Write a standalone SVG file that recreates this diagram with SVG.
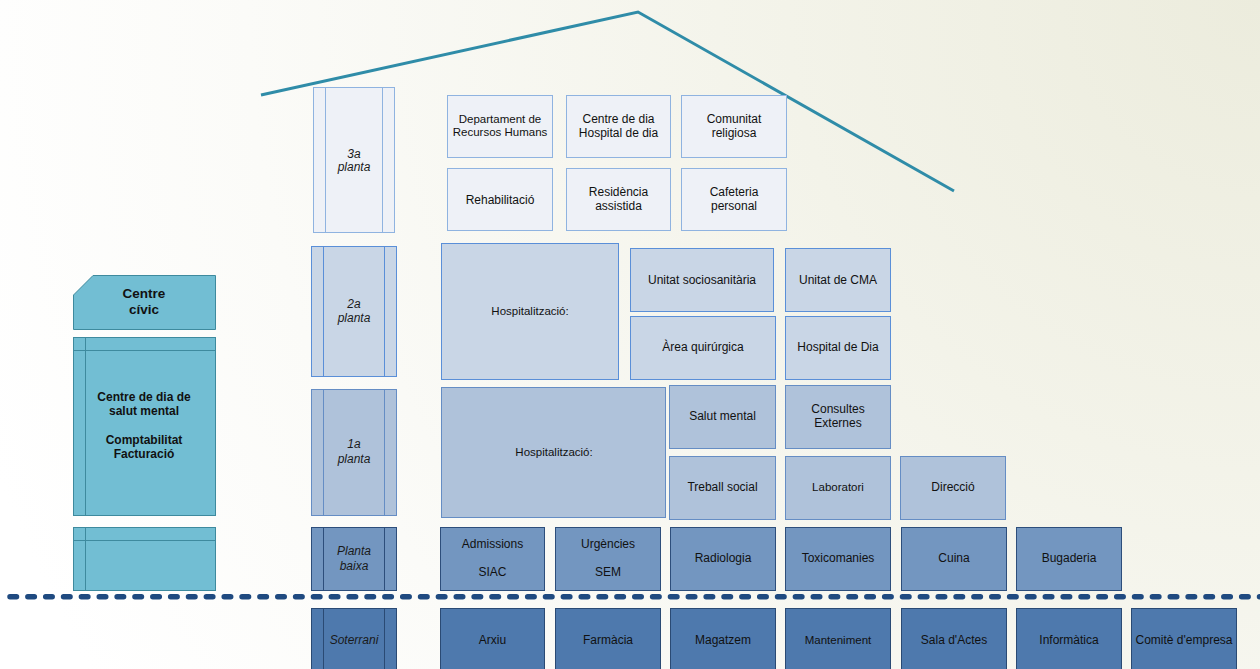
<svg xmlns="http://www.w3.org/2000/svg" width="1260" height="669" viewBox="0 0 1260 669">
<defs>
<radialGradient id="bg" cx="1260" cy="0" r="1350" gradientUnits="userSpaceOnUse">
<stop offset="0" stop-color="#ECECDD"/>
<stop offset="0.35" stop-color="#F3F3E9"/>
<stop offset="0.75" stop-color="#FBFBF8"/>
<stop offset="1" stop-color="#FFFFFF"/>
</radialGradient>
<style>
text{font-family:"Liberation Sans",Arial,sans-serif;font-size:12px;fill:#111;text-anchor:middle}
.it{font-style:italic;fill:#1a1a1a}
.b{font-weight:bold}
.s11{font-size:11.5px}
.l3{fill:#EEF1F7;stroke:#8FB3E0;stroke-width:1}
.l2{fill:#C9D6E6;stroke:#5A8FD8;stroke-width:1}
.l1{fill:#AFC2DA;stroke:#658DC4;stroke-width:1}
.l0{fill:#7396C0;stroke:#2D4E7B;stroke-width:1}
.lb{fill:#4E79AD;stroke:#2A4A74;stroke-width:1}
.tl{fill:#72BED3;stroke:#3E8A9E;stroke-width:1}
.in3{stroke:#8FB3E0;stroke-width:1}
.in2{stroke:#5A8FD8;stroke-width:1}
.in1{stroke:#658DC4;stroke-width:1}
.in0{stroke:#2D4E7B;stroke-width:1}
.inb{stroke:#2A4A74;stroke-width:1}
.int{stroke:#3E8A9E;stroke-width:1}
</style>
</defs>
<rect x="0" y="0" width="1260" height="669" fill="url(#bg)"/>

<g id="connectors">
<polyline id="roof" points="261,95 638,12 954,191" fill="none" stroke="#2F8CA8" stroke-width="3"/>
<line id="ground" x1="10" y1="596.7" x2="1262" y2="596.7" stroke="#1F4A80" stroke-width="5.5" stroke-linecap="round" stroke-dasharray="6.5 11.35"/>
</g>

<!-- left teal building -->
<g id="centre-civic">
<polygon class="tl" points="93,275.5 215.5,275.5 215.5,329.5 73.5,329.5 73.5,295"/>
<text class="b" x="144" y="297.7" style="font-size:13.5px">Centre</text>
<text class="b" x="144" y="313.7" style="font-size:13.5px">cívic</text>
</g>
<g id="centre-dia-salut-mental">
<rect class="tl" x="73.5" y="337.5" width="142" height="178"/>
<line class="int" x1="85.5" y1="337.5" x2="85.5" y2="515.5"/>
<line class="int" x1="73.5" y1="350.5" x2="215.5" y2="350.5"/>
<text class="b" x="144" y="400.9">Centre de dia de</text>
<text class="b" x="144" y="415.2">salut mental</text>
<text class="b" x="144" y="444.2">Comptabilitat</text>
<text class="b" x="144" y="458.2">Facturació</text>
</g>
<g id="teal-base">
<rect class="tl" x="73.5" y="527.5" width="142" height="63"/>
<line class="int" x1="85.5" y1="527.5" x2="85.5" y2="590.5"/>
<line class="int" x1="73.5" y1="540.5" x2="215.5" y2="540.5"/>
</g>

<!-- floor labels -->
<g id="floor-3a">
<rect class="l3" x="313.5" y="87.5" width="81" height="145"/>
<line class="in3" x1="325.5" y1="87.5" x2="325.5" y2="232.5"/>
<line class="in3" x1="382.5" y1="87.5" x2="382.5" y2="232.5"/>
<text class="it" x="354" y="157.5">3a</text>
<text class="it" x="354" y="171">planta</text>
</g>
<g id="floor-2a">
<rect class="l2" x="311.5" y="246.5" width="85" height="130"/>
<line class="in2" x1="323.5" y1="246.5" x2="323.5" y2="376.5"/>
<line class="in2" x1="384.5" y1="246.5" x2="384.5" y2="376.5"/>
<text class="it" x="354" y="307.5">2a</text>
<text class="it" x="354" y="321.5">planta</text>
</g>
<g id="floor-1a">
<rect class="l1" x="311.5" y="389.5" width="85" height="126"/>
<line class="in1" x1="323.5" y1="389.5" x2="323.5" y2="515.5"/>
<line class="in1" x1="384.5" y1="389.5" x2="384.5" y2="515.5"/>
<text class="it" x="354" y="448.2">1a</text>
<text class="it" x="354" y="463.2">planta</text>
</g>
<g id="floor-pb">
<rect class="l0" x="311.5" y="527.5" width="85" height="63"/>
<line class="in0" x1="323.5" y1="527.5" x2="323.5" y2="590.5"/>
<line class="in0" x1="384.5" y1="527.5" x2="384.5" y2="590.5"/>
<text class="it" x="354" y="555.2">Planta</text>
<text class="it" x="354" y="569.5">baixa</text>
</g>
<g id="floor-soterrani">
<rect class="lb" x="311.5" y="608.5" width="85" height="70"/>
<line class="inb" x1="323.5" y1="608.5" x2="323.5" y2="678"/>
<line class="inb" x1="384.5" y1="608.5" x2="384.5" y2="678"/>
<text class="it" x="354" y="644.2">Soterrani</text>
</g>

<!-- 3a planta -->
<g id="rrhh"><rect class="l3" x="447.5" y="95.5" width="105" height="62"/>
<text class="s11" x="500" y="123">Departament de</text><text class="s11" x="500" y="136.2">Recursos Humans</text></g>
<g id="centre-dia"><rect class="l3" x="566.5" y="95.5" width="104" height="62"/>
<text x="618.5" y="122.5">Centre de dia</text><text x="618.5" y="136.5">Hospital de dia</text></g>
<g id="comunitat"><rect class="l3" x="681.5" y="95.5" width="105" height="62"/>
<text x="734" y="122.5">Comunitat</text><text x="734" y="136.5">religiosa</text></g>
<g id="rehabilitacio"><rect class="l3" x="447.5" y="168.5" width="105" height="62"/>
<text x="500" y="203.5">Rehabilitació</text></g>
<g id="residencia"><rect class="l3" x="566.5" y="168.5" width="104" height="62"/>
<text x="618.5" y="196.2">Residència</text><text x="618.5" y="209.5">assistida</text></g>
<g id="cafeteria"><rect class="l3" x="681.5" y="168.5" width="105" height="62"/>
<text x="734" y="196.2">Cafeteria</text><text x="734" y="209.5">personal</text></g>

<!-- 2a planta -->
<g id="hosp-2a"><rect class="l2" x="441.5" y="243.5" width="177" height="136"/>
<text class="s11" x="530" y="315">Hospitalització:</text></g>
<g id="sociosanitaria"><rect class="l2" x="630.5" y="248.5" width="143" height="63"/>
<text x="702" y="283.5">Unitat sociosanitària</text></g>
<g id="quirurgica"><rect class="l2" x="630.5" y="316.5" width="145" height="63"/>
<text x="703" y="351.2">Àrea quirúrgica</text></g>
<g id="cma"><rect class="l2" x="785.5" y="248.5" width="105" height="63"/>
<text x="838" y="283.5">Unitat de CMA</text></g>
<g id="hospital-dia"><rect class="l2" x="785.5" y="316.5" width="105" height="63"/>
<text x="838" y="351.2">Hospital de Dia</text></g>

<!-- 1a planta -->
<g id="hosp-1a"><rect class="l1" x="441.5" y="387.5" width="224" height="130"/>
<text class="s11" x="554" y="456">Hospitalització:</text></g>
<g id="salut-mental"><rect class="l1" x="669.5" y="385.5" width="106" height="63"/>
<text x="722.5" y="419.9">Salut mental</text></g>
<g id="consultes"><rect class="l1" x="785.5" y="385.5" width="105" height="63"/>
<text x="838" y="413.2">Consultes</text><text x="838" y="427">Externes</text></g>
<g id="treball-social"><rect class="l1" x="669.5" y="456.5" width="106" height="63"/>
<text x="722.5" y="490.9">Treball social</text></g>
<g id="laboratori"><rect class="l1" x="785.5" y="456.5" width="105" height="63"/>
<text class="s11" x="838" y="491">Laboratori</text></g>
<g id="direccio"><rect class="l1" x="900.5" y="456.5" width="105" height="63"/>
<text x="953" y="490.9">Direcció</text></g>

<!-- planta baixa -->
<g id="admissions"><rect class="l0" x="440.5" y="527.5" width="104" height="63"/>
<text x="492.5" y="548.2">Admissions</text><text x="492.5" y="576.2">SIAC</text></g>
<g id="urgencies"><rect class="l0" x="555.5" y="527.5" width="105" height="63"/>
<text x="608" y="548.2">Urgències</text><text x="608" y="576.2">SEM</text></g>
<g id="radiologia"><rect class="l0" x="670.5" y="527.5" width="105" height="63"/>
<text x="723" y="562">Radiologia</text></g>
<g id="toxicomanies"><rect class="l0" x="785.5" y="527.5" width="105" height="63"/>
<text x="838" y="562">Toxicomanies</text></g>
<g id="cuina"><rect class="l0" x="901.5" y="527.5" width="105" height="63"/>
<text x="954" y="562">Cuina</text></g>
<g id="bugaderia"><rect class="l0" x="1016.5" y="527.5" width="105" height="63"/>
<text x="1069" y="562">Bugaderia</text></g>

<!-- soterrani -->
<g id="arxiu"><rect class="lb" x="440.5" y="608.5" width="104" height="70"/>
<text x="492.5" y="644.2">Arxiu</text></g>
<g id="farmacia"><rect class="lb" x="555.5" y="608.5" width="105" height="70"/>
<text x="608" y="644.2">Farmàcia</text></g>
<g id="magatzem"><rect class="lb" x="670.5" y="608.5" width="105" height="70"/>
<text x="723" y="644.2">Magatzem</text></g>
<g id="manteniment"><rect class="lb" x="785.5" y="608.5" width="105" height="70"/>
<text class="s11" x="838" y="644">Manteniment</text></g>
<g id="sala-actes"><rect class="lb" x="901.5" y="608.5" width="105" height="70"/>
<text x="954" y="644.2">Sala d'Actes</text></g>
<g id="informatica"><rect class="lb" x="1016.5" y="608.5" width="105" height="70"/>
<text x="1069" y="644.2">Informàtica</text></g>
<g id="comite"><rect class="lb" x="1131.5" y="608.5" width="105" height="70"/>
<text x="1184" y="644.2">Comitè d'empresa</text></g>
</svg>
